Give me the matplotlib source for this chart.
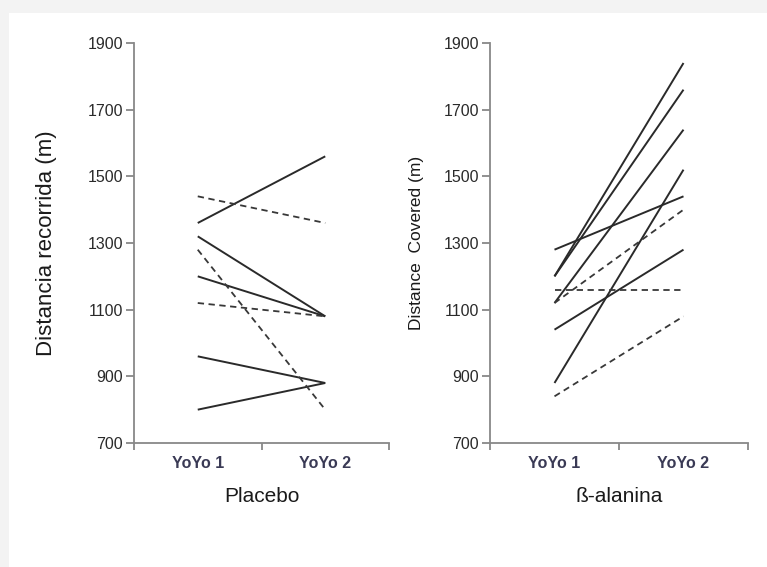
import matplotlib
matplotlib.use('Agg')
import matplotlib.pyplot as plt
from matplotlib.patches import Rectangle

plt.rcParams['font.family'] = ['Liberation Sans', 'DejaVu Sans']

# Data (distance in metres, YoYo 1 -> YoYo 2)
categories = ['YoYo 1', 'YoYo 2']
placebo_solid = [[1360, 1560], [1320, 1080], [1200, 1080], [960, 880], [800, 880]]
placebo_dashed = [[1440, 1360], [1280, 800], [1120, 1080]]
beta_solid = [[1200, 1840], [1200, 1760], [1120, 1640], [880, 1520],
              [1280, 1440], [1040, 1280]]
beta_dashed = [[1120, 1400], [1160, 1160], [840, 1080]]
yticks = [700, 900, 1100, 1300, 1500, 1700, 1900]

fig = plt.figure(figsize=(7.67, 5.67), dpi=100, facecolor='white')
# light gray frame strips at top and left
fig.patches.append(Rectangle((0, 1 - 13 / 567), 1, 13 / 567, transform=fig.transFigure,
                             facecolor='#f3f3f3', edgecolor='none', zorder=0))
fig.patches.append(Rectangle((0, 0), 9 / 767, 1, transform=fig.transFigure,
                             facecolor='#f3f3f3', edgecolor='none', zorder=0))

ax1 = fig.add_axes([134 / 767, 1 - 443 / 567, 255 / 767, 400 / 567])
ax2 = fig.add_axes([490 / 767, 1 - 443 / 567, 258 / 767, 400 / 567])

xpos = [0.5, 1.5]
panels = [
    (ax1, placebo_solid, placebo_dashed, 'Placebo', 'Distancia recorrida (m)', 16),
    (ax2, beta_solid, beta_dashed, 'ß-alanina', 'Distance  Covered (m)', 12.5),
]

for ax, solid, dashed, xlab, ylab, yfs in panels:
    for s in solid:
        ax.plot(xpos, s, color='#2a2a2a', lw=1.4, solid_capstyle='butt')
    for s in dashed:
        ax.plot(xpos, s, color='#383838', lw=1.3, dashes=(3.5, 2.5))
    ax.set_xlim(0, 2)
    ax.set_ylim(700, 1900)
    ax.set_yticks(yticks)
    ax.set_yticklabels([str(v) for v in yticks], fontsize=11.5, color='#2a2a2a')
    ax.set_xticks([0, 1, 2])
    ax.set_xticklabels([])
    ax.set_xticks(xpos, minor=True)
    ax.set_xticklabels(categories, minor=True, fontsize=11.5, color='#3a3a55',
                       fontweight='bold')
    ax.tick_params(axis='x', which='minor', length=0, pad=9)
    ax.tick_params(axis='x', which='major', length=5, width=1.3, color='#888888')
    ax.tick_params(axis='y', length=6, width=1.3, color='#888888', pad=2)
    for side in ['top', 'right']:
        ax.spines[side].set_visible(False)
    for side in ['left', 'bottom']:
        ax.spines[side].set_color('#888888')
        ax.spines[side].set_linewidth(1.3)
    ax.set_xlabel(xlab, fontsize=15, color='#1a1a1a', labelpad=12)
    ax.set_ylabel(ylab, fontsize=yfs, color='#1a1a1a')
    ax.set_facecolor('white')

ax1.yaxis.set_label_coords(-0.30, 0.5)
ax2.yaxis.set_label_coords(-0.256, 0.5)

fig.savefig('out.png', dpi=100, facecolor=fig.get_facecolor())
